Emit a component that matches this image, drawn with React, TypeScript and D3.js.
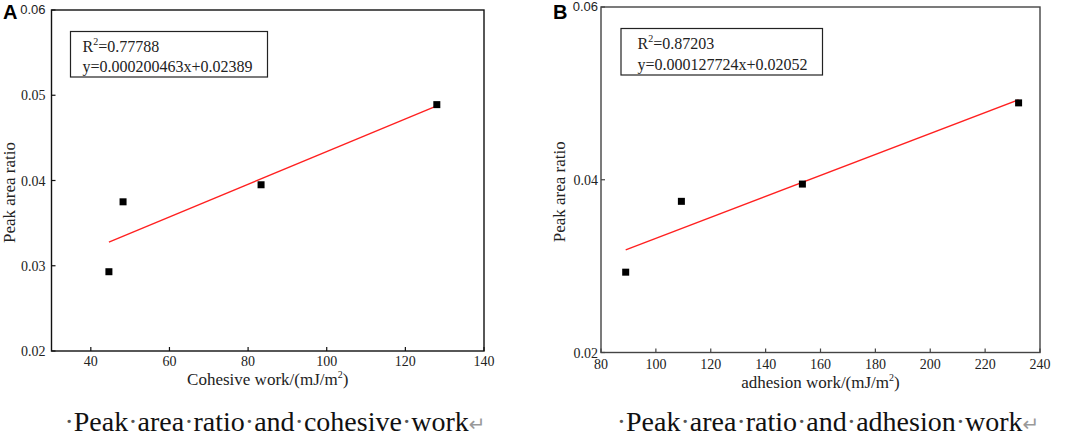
import React from "react";
import * as d3 from "d3";

// ---- data ----
const cohesiveWork = [44.6, 48.2, 83.3, 128.0];
const adhesionWork = [89.0, 109.3, 153.4, 232.2];
const peakAreaRatio = [0.0293, 0.0375, 0.0395, 0.0489];

const xTicksA = [40, 60, 80, 100, 120, 140];
const yTicksA = [0.02, 0.03, 0.04, 0.05, 0.06];
const xTicksB = [80, 100, 120, 140, 160, 180, 200, 220, 240];
const yTicksB = [0.02, 0.04, 0.06];

const r2A = "0.77788";
const eqA = "y=0.000200463x+0.02389";
const r2B = "0.87203";
const eqB = "y=0.000127724x+0.02052";

const captionWordsA = ["Peak", "area", "ratio", "and", "cohesive", "work"];
const captionWordsB = ["Peak", "area", "ratio", "and", "adhesion", "work"];

const SERIF = "Liberation Serif, Times New Roman, serif";
const SANS = "Liberation Sans, Arial, sans-serif";

function fit(xs: number[], ys: number[]) {
  const mx = d3.mean(xs) as number;
  const my = d3.mean(ys) as number;
  const sxy = d3.sum(xs, (x, i) => (x - mx) * (ys[i] - my));
  const sxx = d3.sum(xs, (x) => (x - mx) * (x - mx));
  const slope = sxy / sxx;
  return { slope, intercept: my - slope * mx };
}

type PanelProps = {
  letter: string;
  letterX: number;
  xs: number[];
  ys: number[];
  xDomain: [number, number];
  xRange: [number, number];
  yRange: [number, number];
  xTicks: number[];
  yTicks: number[];
  xTitle: string;
  yTitleX: number;
  axisColor: string;
  yLabelGap: number;
  xLabelY: number;
  xTitleY: number;
  legend: { x: number; y: number; w: number; h: number; tx: number; b1: number; b2: number; r2: string; eq: string };
  captionWords: string[];
  captionX: number;
};

function Panel(p: PanelProps) {
  const x = d3.scaleLinear().domain(p.xDomain).range(p.xRange);
  const y = d3.scaleLinear().domain([0.02, 0.06]).range(p.yRange);
  const [l, r] = p.xRange;
  const [b, t] = p.yRange;
  const f = fit(p.xs, p.ys);
  const xmin = d3.min(p.xs) as number;
  const xmax = d3.max(p.xs) as number;
  const lineGen = d3
    .line<number>()
    .x((d) => x(d))
    .y((d) => y(f.slope * d + f.intercept));
  const fmtY = d3.format(".2f");
  const top = p.yTicks[p.yTicks.length - 1];
  return (
    <g>
      {/* panel letter */}
      <text x={p.letterX} y={19} fontFamily={SANS} fontWeight="bold" fontSize={20} fill="#000">
        {p.letter}
      </text>
      {/* frame */}
      <rect x={l} y={t} width={r - l} height={b - t} fill="none" stroke={p.axisColor} strokeWidth={1.4} />
      {/* x ticks */}
      {p.xTicks.map((v) => (
        <g key={"x" + v}>
          <line x1={x(v)} x2={x(v)} y1={b} y2={b - 4} stroke={p.axisColor} strokeWidth={1.2} />
          <text x={x(v)} y={p.xLabelY} textAnchor="middle" fontFamily={SERIF} fontSize={14} fill="#222">
            {v}
          </text>
        </g>
      ))}
      {/* y ticks */}
      {p.yTicks.map((v) => (
        <g key={"y" + v}>
          <line x1={l} x2={l + 4} y1={y(v)} y2={y(v)} stroke={p.axisColor} strokeWidth={1.2} />
          <text
            x={l - p.yLabelGap}
            y={y(v) + (v === top ? 4 : 5)}
            textAnchor="end"
            fontFamily={v === top ? SANS : SERIF}
            fontSize={v === top ? 13 : 14}
            fill="#222"
          >
            {fmtY(v)}
          </text>
        </g>
      ))}
      {/* axis titles */}
      <text x={(l + r) / 2} y={p.xTitleY} textAnchor="middle" fontFamily={SERIF} fontSize={17} fill="#222">
        {p.xTitle}/(mJ/m
        <tspan fontSize={10} dy={-7}>2</tspan>
        <tspan dy={7}>)</tspan>
      </text>
      <text
        transform={`translate(${p.yTitleX},${(b + t) / 2 + 12}) rotate(-90)`}
        textAnchor="middle"
        fontFamily={SERIF}
        fontSize={17}
        fill="#222"
      >
        Peak area ratio
      </text>
      {/* legend box */}
      <rect x={p.legend.x} y={p.legend.y} width={p.legend.w} height={p.legend.h} fill="#fff" stroke="#222" strokeWidth={1.2} />
      <text x={p.legend.tx} y={p.legend.b1} fontFamily={SERIF} fontSize={16} fill="#222">
        R<tspan fontSize={10} dy={-7}>2</tspan>
        <tspan dy={7}>={p.legend.r2}</tspan>
      </text>
      <text x={p.legend.tx} y={p.legend.b2} fontFamily={SERIF} fontSize={16} fill="#222">
        {p.legend.eq}
      </text>
      {/* fit line */}
      <path d={lineGen([xmin, xmax]) || ""} fill="none" stroke="#ff2020" strokeWidth={1.3} />
      {/* points */}
      {p.xs.map((v, i) => (
        <rect key={"p" + i} x={x(v) - 3.5} y={y(p.ys[i]) - 3.5} width={7} height={7} fill="#000" />
      ))}
      {/* caption */}
      <text x={p.captionX} y={431} textAnchor="middle" fontFamily={SERIF} fontSize={28} fill="#111">
        {p.captionWords.map((w, i) => (
          <React.Fragment key={"c" + i}>
            <tspan fill="#555">·</tspan>
            <tspan>{w}</tspan>
          </React.Fragment>
        ))}
        <tspan fill="#999" fontSize={20} fontFamily="DejaVu Sans, sans-serif">↵</tspan>
      </text>
    </g>
  );
}

export default function App() {
  return (
    <svg
      width={1072}
      height={438}
      viewBox="0 0 1072 438"
      style={{ position: "absolute", left: 0, top: 0, background: "#fff" }}
    >
      <rect width={1072} height={438} fill="#fff" />
      <Panel
        letter="A"
        letterX={3}
        xs={cohesiveWork}
        ys={peakAreaRatio}
        xDomain={[30, 140]}
        xRange={[51.5, 484]}
        yRange={[351, 10]}
        xTicks={xTicksA}
        yTicks={yTicksA}
        xTitle="Cohesive work"
        yTitleX={15}
        axisColor="#111"
        yLabelGap={6}
        xLabelY={366}
        xTitleY={385}
        legend={{ x: 70.5, y: 31.5, w: 197, h: 45.5, tx: 82.5, b1: 51.5, b2: 71.5, r2: r2A, eq: eqA }}
        captionWords={captionWordsA}
        captionX={275}
      />
      <Panel
        letter="B"
        letterX={553}
        xs={adhesionWork}
        ys={peakAreaRatio}
        xDomain={[80, 240]}
        xRange={[601, 1040]}
        yRange={[352.5, 7]}
        xTicks={xTicksB}
        yTicks={yTicksB}
        xTitle="adhesion work"
        yTitleX={565}
        axisColor="#444"
        yLabelGap={3}
        xLabelY={369}
        xTitleY={388}
        legend={{ x: 621, y: 28.5, w: 201.5, h: 46.5, tx: 637.5, b1: 48.5, b2: 70, r2: r2B, eq: eqB }}
        captionWords={captionWordsB}
        captionX={828}
      />
    </svg>
  );
}
